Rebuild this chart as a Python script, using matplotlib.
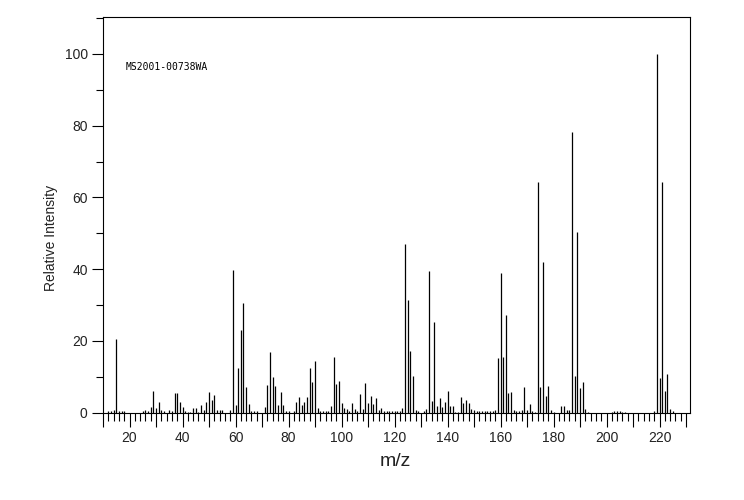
import matplotlib
matplotlib.use("Agg")
import matplotlib.pyplot as plt
from matplotlib.ticker import MultipleLocator, FuncFormatter

# m/z values and relative intensities
mz = [12, 13, 14, 15, 16, 17, 18, 25, 26, 27, 28, 29, 30, 31, 32, 33, 35, 36, 37, 38,
      39, 40, 41, 42, 43, 44, 45, 46, 47, 48, 49, 50, 51, 52, 53, 54, 55, 58, 59, 60,
      61, 62, 63, 64, 65, 66, 67, 68, 71, 72, 73, 74, 75, 76, 77, 78, 79, 80, 82, 83,
      84, 85, 86, 87, 88, 89, 90, 91, 92, 93, 94, 95, 96, 97, 98, 99, 100, 101, 102, 103,
      104, 105, 106, 107, 108, 109, 110, 111, 112, 113, 114, 115, 116, 117, 118, 119, 120, 121, 122, 123,
      124, 125, 126, 127, 128, 129, 131, 132, 133, 134, 135, 136, 137, 138, 139, 140, 141, 142, 143, 144,
      145, 146, 147, 148, 149, 150, 151, 152, 153, 154, 155, 156, 157, 158, 159, 160, 161, 162, 163, 164,
      165, 166, 167, 168, 169, 170, 171, 172, 173, 174, 175, 176, 177, 178, 179, 180, 183, 184, 185, 186,
      187, 188, 189, 190, 191, 192, 193, 202, 203, 204, 205, 206, 207, 218, 219, 220, 221, 222, 223, 224,
      225]
intensity = [0.3, 0.5, 0.8, 20.6, 0.5, 0.5, 0.5, 0.3, 0.7, 0.5, 1.5, 6.0, 1.3, 3.0, 0.7, 0.3, 0.7, 0.5, 5.3, 5.3,
             3.0, 1.6, 0.5, 0.2, 0.2, 1.3, 1.3, 0.2, 2.0, 0.6, 2.9, 5.7, 3.4, 5.0, 0.6, 0.6, 0.6, 0.6, 39.7, 2.0,
             12.4, 23.0, 30.5, 7.1, 2.3, 0.4, 0.4, 0.4, 1.6, 7.8, 17.0, 9.8, 7.5, 2.0, 5.6, 2.0, 0.4, 0.4, 0.4, 2.8,
             4.2, 2.1, 3.0, 4.4, 12.5, 8.6, 14.4, 1.3, 0.4, 0.5, 0.4, 0.5, 1.9, 15.5, 8.0, 8.8, 2.7, 1.3, 1.0, 0.3,
             2.7, 1.0, 0.3, 5.2, 1.0, 8.3, 2.7, 4.6, 2.4, 4.1, 0.7, 1.3, 0.5, 0.3, 0.3, 0.3, 0.3, 0.3, 0.5, 1.3,
             47.0, 31.5, 17.2, 10.3, 0.7, 0.5, 0.5, 1.0, 39.6, 3.3, 25.1, 1.9, 4.1, 1.6, 3.0, 6.0, 1.9, 1.9, 0.2, 0.2,
             4.4, 2.7, 3.5, 2.7, 1.0, 0.7, 0.5, 0.5, 0.3, 0.3, 0.3, 0.3, 0.5, 0.7, 15.3, 38.8, 15.6, 27.3, 5.5, 5.8,
             0.7, 0.5, 0.5, 0.7, 7.2, 0.7, 2.5, 0.5, 0.2, 64.2, 7.0, 41.9, 4.5, 7.3, 0.7, 0.2, 1.7, 1.7, 0.8, 0.6,
             78.2, 10.1, 50.4, 6.8, 8.5, 1.0, 0.2, 0.2, 0.5, 0.3, 0.5, 0.2, 0.2, 0.5, 100.0, 9.6, 64.2, 6.0, 10.7, 1.0,
             0.5]

sample_id = "MS2001-00738WA"
x_label = "m/z"
y_label = "Relative Intensity"

plt.rcParams['font.family'] = ['Liberation Sans', 'DejaVu Sans']

W, H = 744, 500
fig = plt.figure(figsize=(W / 100, H / 100), dpi=100)
fig.patch.set_facecolor("white")

left_px, right_px, top_px, bottom_px = 103, 690, 17, 412.5
ax = fig.add_axes([left_px / W, 1 - bottom_px / H,
                   (right_px - left_px) / W, (bottom_px - top_px) / H])

ax.vlines(mz, 0, intensity, colors="black", linewidth=0.9)

ax.set_xlim(10, 231.5)
ax.set_ylim(0, 110.3)

for s in ax.spines.values():
    s.set_linewidth(0.8)
    s.set_color("black")

ax.xaxis.set_major_locator(MultipleLocator(10))
ax.xaxis.set_minor_locator(MultipleLocator(2))
ax.xaxis.set_major_formatter(FuncFormatter(lambda v, p: f"{int(round(v))}" if int(round(v)) % 20 == 0 else ""))
ax.yaxis.set_major_locator(MultipleLocator(20))
ax.yaxis.set_minor_locator(MultipleLocator(10))

ax.tick_params(axis="x", which="major", direction="out", length=10, width=0.8, labelsize=10, pad=3,
               labelcolor="#222222")
ax.tick_params(axis="x", which="minor", direction="out", length=6, width=0.8)
ax.tick_params(axis="y", which="major", direction="out", length=8, width=0.8, labelsize=10, pad=3,
               labelcolor="#222222")
ax.tick_params(axis="y", which="minor", direction="out", length=5, width=0.8)

ax.text(18.4, 96.4, sample_id, fontsize=7, family="DejaVu Sans Mono", ha="left", va="center")

fig.text(395 / W, 1 - 461 / H, x_label, fontsize=14, ha="center", va="center", color="#222222")
fig.text(51 / W, 1 - 238 / H, y_label, fontsize=10, ha="center", va="center", rotation=90,
         color="#222222")

fig.savefig("out.png", dpi=100, facecolor="white")
